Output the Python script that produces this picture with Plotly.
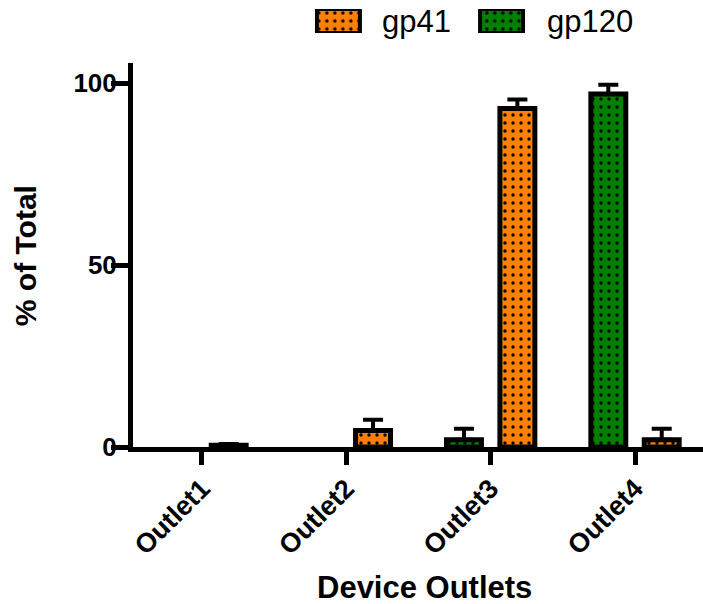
import plotly.graph_objects as go

# Recovery of gp120 and gp41 across device outlets (% of total)
outlets = ["Outlet1", "Outlet2", "Outlet3", "Outlet4"]
gp120_mean = [0, 0, 2.0, 97.0]
gp120_err = [0, 0, 3.0, 2.5]
gp41_mean = [0.5, 4.5, 93.0, 2.0]
gp41_err = [0.3, 3.0, 2.5, 3.0]
y_ticks = [0, 50, 100]

ORANGE = "#FF8000"
GREEN = "#008000"
FONT = "Arial, Liberation Sans, sans-serif"


def dotted(color):
    return dict(shape=".", fgcolor="black", bgcolor=color, size=8,
                solidity=0.14, fillmode="replace")


def nonzero(values, ref=None):
    # outlets with nothing recovered are left empty rather than drawn at zero
    ref = values if ref is None else ref
    return [v if r > 0 else None for v, r in zip(values, ref)]


def err(means, values):
    return dict(type="data", array=nonzero(values, means),
                arrayminus=[0] * len(values), symmetric=False,
                color="black", thickness=4, width=10)


fig = go.Figure()
fig.add_trace(go.Bar(
    name="gp120", x=outlets, y=nonzero(gp120_mean),
    error_y=err(gp120_mean, gp120_err),
    marker=dict(color=GREEN, pattern=dotted(GREEN),
                line=dict(color="black", width=5)),
    showlegend=False,
))
fig.add_trace(go.Bar(
    name="gp41", x=outlets, y=nonzero(gp41_mean),
    error_y=err(gp41_mean, gp41_err),
    marker=dict(color=ORANGE, pattern=dotted(ORANGE),
                line=dict(color="black", width=5)),
    showlegend=False,
))

# Legend swatches drawn as patterned bars on a small auxiliary axis pair
legend_names = ["gp41", "gp120"]
legend_colors = [ORANGE, GREEN]
legend_x = [23.5, 186.5]
for name, color, xpos in zip(legend_names, legend_colors, legend_x):
    fig.add_trace(go.Bar(
        x=[xpos], y=[1], width=[43], offsetgroup="key",
        xaxis="x2", yaxis="y2", showlegend=False, hoverinfo="skip",
        marker=dict(color=color, pattern=dotted(color),
                    line=dict(color="black", width=4)),
    ))

legend_text_x = [0.4333, 0.7228]
annotations = [
    dict(text=name, x=tx, y=0.9638, xref="paper", yref="paper",
         xanchor="left", yanchor="middle", showarrow=False,
         font=dict(family=FONT, size=31, color="black"))
    for name, tx in zip(legend_names, legend_text_x)
]
annotations.append(dict(
    text="<b>% of Total</b>", x=-0.1895, y=0.434, xref="paper", yref="paper",
    textangle=-90, showarrow=False, xanchor="center", yanchor="middle",
    font=dict(family=FONT, size=30, color="black"),
))
annotations.append(dict(
    text="<b>Device Outlets</b>", x=0.512, y=-0.319, xref="paper", yref="paper",
    showarrow=False, xanchor="center", yanchor="middle",
    font=dict(family=FONT, size=31, color="black"),
))

fig.update_layout(
    width=703, height=604,
    margin=dict(l=133, r=0, t=5, b=157),
    paper_bgcolor="white", plot_bgcolor="white",
    barmode="group", bargap=0.26, bargroupgap=0.346,
    font=dict(family=FONT, color="black"),
    annotations=annotations,
    xaxis=dict(
        type="category", range=[-0.478, 3.471],
        showline=True, linewidth=5, linecolor="black",
        ticks="outside", ticklen=13, tickwidth=5, tickcolor="black",
        tickangle=-45, ticklabelstandoff=-3, showgrid=False, zeroline=False,
        tickfont=dict(family=FONT, size=27, color="black", weight="bold"),
    ),
    yaxis=dict(
        domain=[0, 0.8688], range=[0, 105.5],
        tickvals=y_ticks, ticktext=[f"{v}" for v in y_ticks],
        showline=True, linewidth=5, linecolor="black",
        ticks="outside", ticklen=17, tickwidth=5, tickcolor="black",
        ticklabelstandoff=-11,
        showgrid=False, zeroline=False,
        tickfont=dict(family=FONT, size=26, color="black", weight="bold"),
    ),
    xaxis2=dict(domain=[0.319, 0.688], range=[0, 210], anchor="y2",
                visible=False, fixedrange=True),
    yaxis2=dict(domain=[0.9367, 0.991], range=[0, 1], anchor="x2",
                visible=False, fixedrange=True),
)

fig.write_html("out.html")
